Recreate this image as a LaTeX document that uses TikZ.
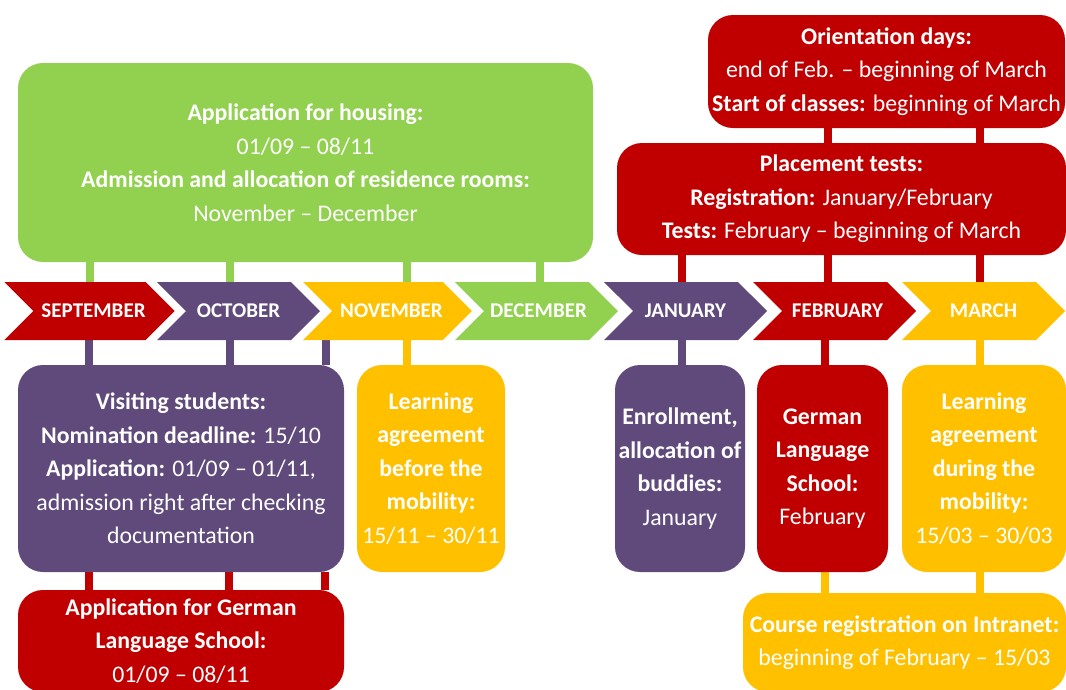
\documentclass[tikz,border=0pt]{standalone}
\usepackage{fontspec}
\setmainfont{Carlito}
\usepackage{tikz}
\usetikzlibrary{shapes.symbols,backgrounds}
\definecolor{cred}{HTML}{C00000}
\definecolor{cpurple}{HTML}{604A7B}
\definecolor{cyellow}{HTML}{FFC000}
\definecolor{cgreen}{HTML}{92D050}

\begin{document}
\begin{tikzpicture}[x=1pt,y=-1pt,
box/.style={rounded corners=25pt,text=white,align=center,inner sep=0pt,font=\fontsize{23.8}{33.5}\selectfont},
month/.style={signal,signal from=west,signal to=east,signal pointer angle=90,minimum width=163pt,minimum height=58pt,inner sep=0pt,text=white,font=\fontsize{21}{22}\selectfont\bfseries},
link/.style={line width=8.5pt}]
\clip(0,0)rectangle(1066,689);
% months
\node[month,fill=cred](sep)at(89.5,311){\hspace{8pt}SEPTEMBER};
\node[month,fill=cpurple](oct)at(238.5,311){OCTOBER};
\node[month,fill=cyellow](nov)at(387.5,311){\hspace{8pt}NOVEMBER};
\node[month,fill=cgreen](dec)at(536.5,311){\hspace{4pt}DECEMBER};
\node[month,fill=cpurple](jan)at(685.5,311){JANUARY};
\node[month,fill=cred](feb)at(834.5,311){\hspace{6pt}FEBRUARY};
\node[month,fill=cyellow](mar)at(983.5,311){MARCH};
% boxes above
\node[box,fill=cgreen,minimum width=575pt,minimum height=199pt](hous)at(305.5,162.5)
{\textbf{Application for housing:}\\01/09 -- 08/11\\\textbf{Admission and allocation of residence rooms:}\\November -- December};
\node[box,fill=cred,minimum width=357pt,minimum height=113pt](orient)at(886.5,71.5)
{\textbf{Orientation days:}\\end of Feb. -- beginning of March\\\textbf{Start of classes:} beginning of March};
\node[box,fill=cred,minimum width=449pt,minimum height=112pt](place)at(841.5,199)
{\textbf{Placement tests:}\\\textbf{Registration:} January/February\\\textbf{Tests:} February -- beginning of March};
% boxes below
\node[box,fill=cpurple,minimum width=326pt,minimum height=207pt](visit)at(181,468.5)
{\textbf{Visiting students:}\\\textbf{Nomination deadline:} 15/10\\\textbf{Application:} 01/09 -- 01/11,\\admission right after checking\\documentation};
\node[box,fill=cyellow,minimum width=148pt,minimum height=207pt](lbefore)at(431,468.5)
{\textbf{Learning}\\\textbf{agreement}\\\textbf{before the}\\\textbf{mobility:}\\15/11 -- 30/11};
\node[box,fill=cpurple,minimum width=130pt,minimum height=207pt](enrol)at(680,468.5)
{\textbf{Enrollment,}\\\textbf{allocation of}\\\textbf{buddies:}\\January};
\node[box,fill=cred,minimum width=131pt,minimum height=207pt](gls)at(822.5,468.5)
{\textbf{German}\\\textbf{Language}\\\textbf{School:}\\February};
\node[box,fill=cyellow,minimum width=164pt,minimum height=207pt](lduring)at(984,468.5)
{\textbf{Learning}\\\textbf{agreement}\\\textbf{during the}\\\textbf{mobility:}\\15/03 -- 30/03};
\node[box,fill=cred,minimum width=326pt,minimum height=102pt](appger)at(181,641)
{\textbf{Application for German}\\\textbf{Language School:}\\01/09 -- 08/11};
\node[box,fill=cyellow,minimum width=323pt,minimum height=99pt](course)at(904.5,642.5)
{\textbf{Course registration on Intranet:}\\beginning of February -- 15/03};
% connectors
\begin{scope}[on background layer]
\foreach \x/\a/\b in {90/hous/sep,230/hous/oct,407/hous/nov,540/hous/dec}
  \draw[link,cgreen](\x,0 |- \a.south)--(\x,0 |- \b.north);
\foreach \x/\a/\b in {828/orient/place,980/orient/place,682/place/jan,828/place/feb,980/place/mar,
  825/feb/gls,89/visit/appger,229/visit/appger,325/visit/appger}
  \draw[link,cred](\x,0 |- \a.south)--(\x,0 |- \b.north);
\foreach \x/\a/\b in {89/sep/visit,230/oct/visit,326/nov/visit,682/jan/enrol}
  \draw[link,cpurple](\x,0 |- \a.south)--(\x,0 |- \b.north);
\foreach \x/\a/\b in {407/nov/lbefore,980/mar/lduring,825/gls/course,980/lduring/course}
  \draw[link,cyellow](\x,0 |- \a.south)--(\x,0 |- \b.north);
\end{scope}
\end{tikzpicture}
\end{document}
